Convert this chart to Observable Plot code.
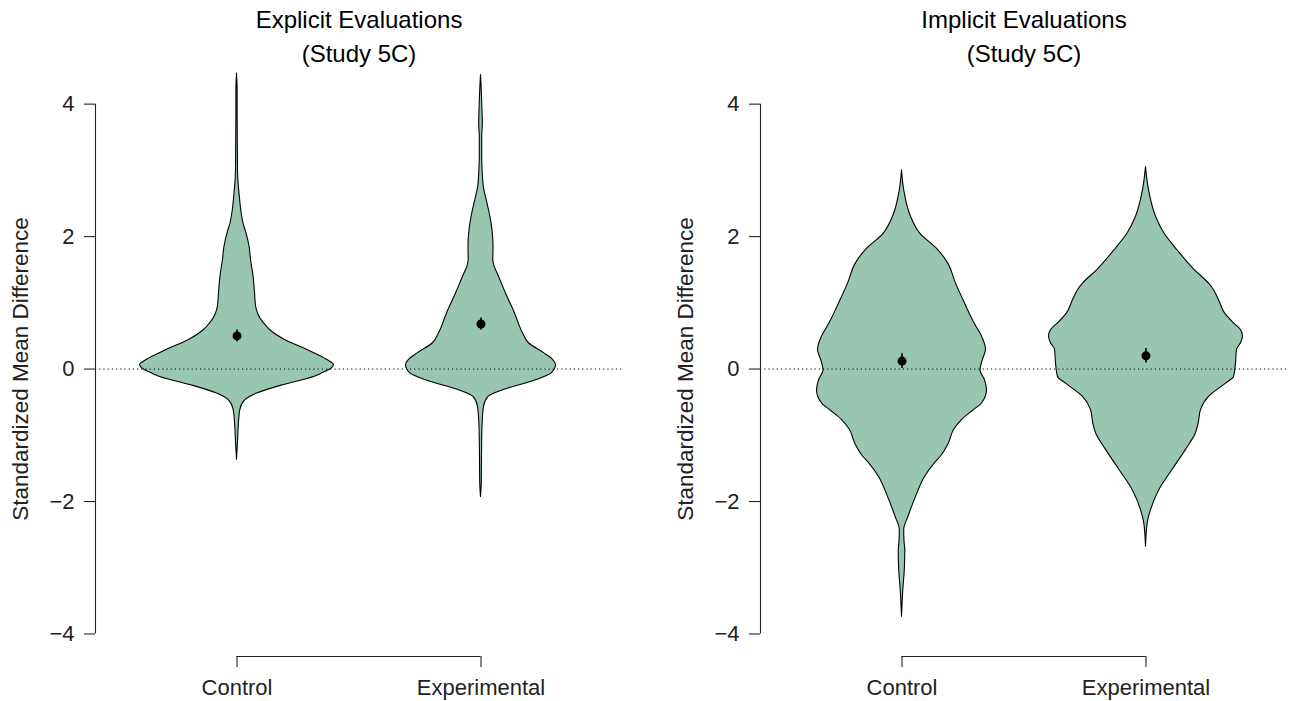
<!DOCTYPE html>
<html>
<head>
<meta charset="utf-8">
<script src="https://cdn.jsdelivr.net/npm/d3@7"></script>
<script src="https://cdn.jsdelivr.net/npm/@observablehq/plot@0.6"></script>
<style>
  html, body { margin: 0; padding: 0; background: #ffffff; }
  #wrap { display: flex; width: 1289px; height: 701px; overflow: hidden; }
  #wrap svg { display: block; }
</style>
</head>
<body>
<div id="wrap"></div>
<script>
// ---------- data ----------
const categories = ["Control", "Experimental"];
const panelTitles = ["Explicit Evaluations\n(Study 5C)", "Implicit Evaluations\n(Study 5C)"];
const yLabel = "Standardized Mean Difference";
const yTicks = [-4, -2, 0, 2, 4];
const xDomain = [0.42, 2.58];
const yDomain = [-4.34, 4.84];

// violin outlines: value (y) and half-width (in x units)
const explicitControlY = [4.46, 4.2, 3.8, 3.4, 3.0, 2.8, 2.6, 2.4, 2.2, 2.05, 1.85, 1.65, 1.4, 1.15, 0.95, 0.84, 0.75, 0.69, 0.59, 0.44, 0.29, 0.14, 0.06, 0.0, -0.06, -0.12, -0.24, -0.37, -0.47, -0.62, -0.87, -1.1, -1.37];
const explicitControlW = [0, 0.0025, 0.0025, 0.0033, 0.0041, 0.0066, 0.0115, 0.0172, 0.0266, 0.0389, 0.0512, 0.0574, 0.0676, 0.0738, 0.0779, 0.0861, 0.0984, 0.1107, 0.1352, 0.1967, 0.2869, 0.3689, 0.3975, 0.3852, 0.3525, 0.3156, 0.1926, 0.0820, 0.0340, 0.0135, 0.0070, 0.0041, 0];

const explicitExperimentalY = [4.44, 4.2, 3.9, 3.7, 3.5, 3.2, 3.0, 2.75, 2.5, 2.25, 2.05, 1.85, 1.65, 1.55, 1.44, 1.14, 0.84, 0.54, 0.39, 0.24, 0.14, 0.06, -0.06, -0.17, -0.32, -0.42, -0.57, -0.87, -1.3, -1.7, -1.93];
const explicitExperimentalW = [0, 0.0033, 0.0061, 0.0074, 0.0049, 0.0049, 0.0066, 0.0115, 0.0266, 0.0410, 0.0484, 0.0512, 0.0504, 0.0553, 0.0684, 0.1025, 0.1393, 0.1721, 0.1967, 0.2582, 0.2951, 0.3074, 0.2910, 0.2254, 0.0902, 0.0307, 0.0123, 0.0061, 0.0041, 0.0033, 0];

const implicitControlY = [3.0, 2.7, 2.3, 2.05, 1.8, 1.6, 1.29, 0.99, 0.69, 0.49, 0.29, 0.12, -0.02, -0.17, -0.32, -0.52, -0.62, -0.77, -0.92, -1.12, -1.32, -1.42, -1.63, -1.93, -2.23, -2.43, -2.6, -2.75, -3.03, -3.34, -3.74];
const implicitControlW = [0, 0.0090, 0.0369, 0.0738, 0.1475, 0.1885, 0.2213, 0.2582, 0.2971, 0.3279, 0.3443, 0.3299, 0.3217, 0.3402, 0.3484, 0.3279, 0.2951, 0.2459, 0.2131, 0.1926, 0.1598, 0.1352, 0.0943, 0.0574, 0.0266, 0.0090, 0.0102, 0.0135, 0.0115, 0.0053, 0];

const implicitExperimentalY = [3.05, 2.7, 2.3, 2.05, 1.79, 1.49, 1.29, 1.19, 1.04, 0.84, 0.69, 0.59, 0.49, 0.39, 0.29, 0.09, -0.12, -0.22, -0.42, -0.62, -0.82, -0.97, -1.22, -1.52, -1.83, -2.13, -2.33, -2.68];
const implicitExperimentalW = [0, 0.0123, 0.0410, 0.0750, 0.1299, 0.2008, 0.2582, 0.2787, 0.2992, 0.3238, 0.3607, 0.3893, 0.3975, 0.3893, 0.3730, 0.3689, 0.3607, 0.3279, 0.2582, 0.2254, 0.2160, 0.2049, 0.1639, 0.1094, 0.0545, 0.0205, 0.0070, 0];

// means with intervals
const explicitMeans = [0.50, 0.68];
const explicitLow = [0.41, 0.59];
const explicitHigh = [0.59, 0.77];
const implicitMeans = [0.12, 0.20];
const implicitLow = [0.01, 0.09];
const implicitHigh = [0.23, 0.31];

// ---------- helpers ----------
const fontFamily = "'Liberation Sans', Arial, Helvetica, sans-serif";
const violinFill = "#98c6b1";
const textColor = "#222222";

function violinRows(ys, ws, i) {
  return ys.map((y, k) => ({pos: i + 1, y, w: ws[k]})).sort((a, b) => a.y - b.y);
}
function meanRows(m, lo, hi) {
  return m.map((v, i) => ({pos: i + 1, mean: v, lo: lo[i], hi: hi[i]}));
}
const fmt = d => d < 0 ? "\u2212" + Math.abs(d) : String(d);

function panel(title, violins, means, width, marginRight) {
  const rows = violins.flatMap(([ys, ws], i) => violinRows(ys, ws, i));
  return Plot.plot({
    width, height: 701,
    marginLeft: 95, marginRight, marginTop: 48, marginBottom: 45,
    x: {domain: xDomain},
    y: {domain: yDomain},
    style: {fontFamily, fontSize: "22px", color: textColor, background: "white", overflow: "visible"},
    marks: [
      Plot.areaX(rows, {y: "y", x1: d => d.pos - d.w, x2: d => d.pos + d.w, z: "pos",
        fill: violinFill, stroke: "black", strokeWidth: 1.1, curve: "monotone-y"}),
      Plot.ruleY([0], {stroke: "black", strokeWidth: 1, strokeDasharray: "1.2,3"}),
      Plot.ruleX(means, {x: "pos", y1: "lo", y2: "hi", stroke: "black", strokeWidth: 1.6}),
      Plot.dot(means, {x: "pos", y: "mean", r: 4.5, fill: "black", stroke: "none"}),
      // y axis
      Plot.ruleX([{x: xDomain[0], y1: yTicks[0], y2: yTicks[yTicks.length - 1]}], {x: "x", y1: "y1", y2: "y2", stroke: textColor, strokeWidth: 1.1}),
      Plot.axisY({ticks: yTicks, tickFormat: fmt, tickSize: 11, tickPadding: 10, label: null, fontSize: 22, strokeWidth: 1.1}),
      // x axis bracket
      Plot.ruleY([{y: yDomain[0], x1: 1, x2: categories.length}], {y: "y", x1: "x1", x2: "x2", stroke: textColor, strokeWidth: 1.1}),
      Plot.axisX({ticks: categories.map((c, i) => i + 1), tickFormat: i => categories[i - 1], tickSize: 11, tickPadding: 12, label: null, fontSize: 22, strokeWidth: 1.1}),
      // y label
      Plot.text([yLabel], {text: d => d, y: d => (yTicks[0] + yTicks[yTicks.length - 1]) / 2, frameAnchor: "left", textAnchor: "middle", lineAnchor: "middle", dx: -75, rotate: -90, fontSize: 22.5, fill: textColor}),
      // title
      Plot.text([title], {text: d => d, frameAnchor: "top", lineAnchor: "top", dy: -44, lineHeight: 1.4, fontSize: 24, fill: "black"})
    ]
  });
}

const wrap = document.getElementById("wrap");
wrap.appendChild(panel(panelTitles[0],
  [[explicitControlY, explicitControlW], [explicitExperimentalY, explicitExperimentalW]],
  meanRows(explicitMeans, explicitLow, explicitHigh), 665, 43));
wrap.appendChild(panel(panelTitles[1],
  [[implicitControlY, implicitControlW], [implicitExperimentalY, implicitExperimentalW]],
  meanRows(implicitMeans, implicitLow, implicitHigh), 624, 2));
</script>
</body>
</html>
